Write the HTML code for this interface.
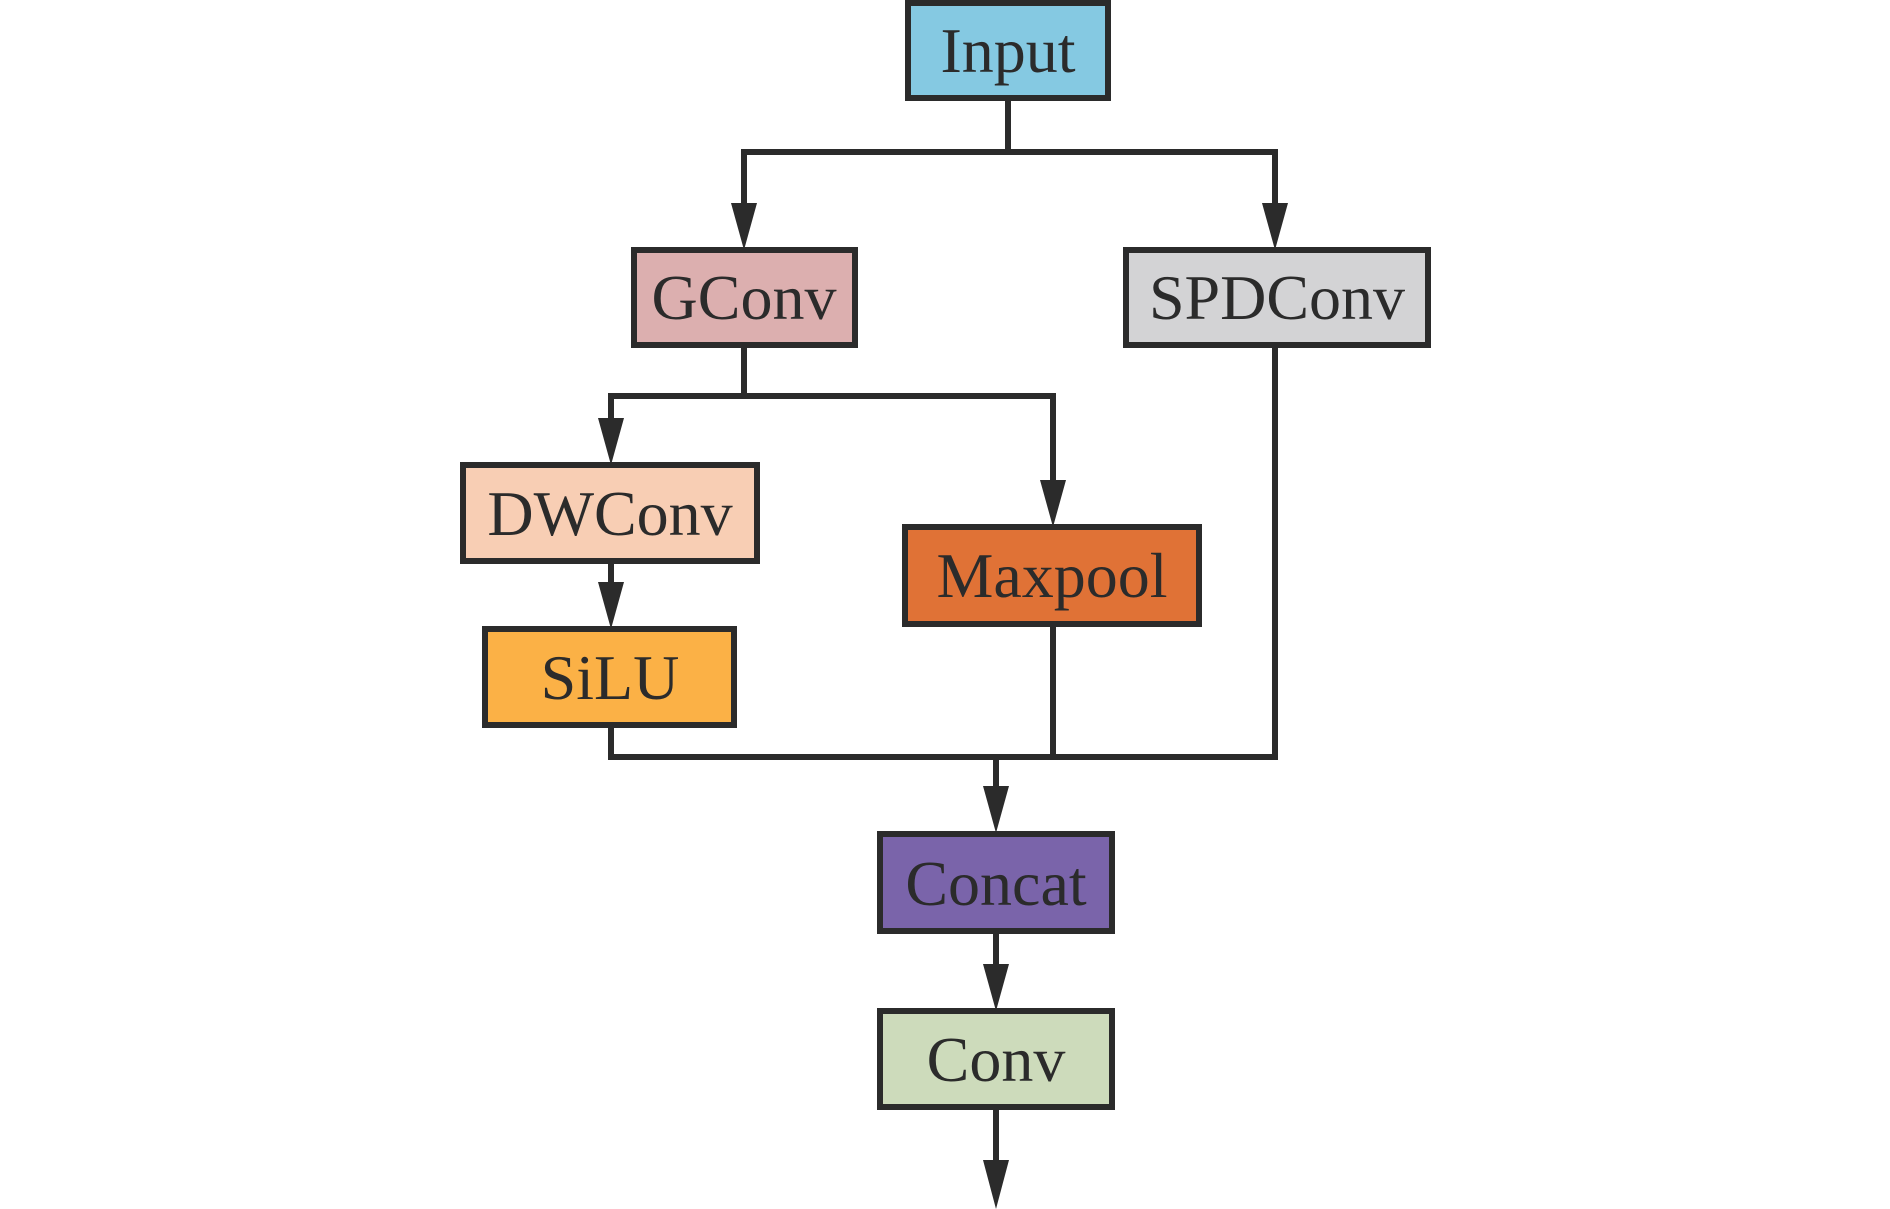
<!DOCTYPE html>
<html><head><meta charset="utf-8"><style>html,body{margin:0;padding:0;background:#fff}svg{display:block}</style></head>
<body>
<svg width="1890" height="1209" viewBox="0 0 1890 1209" xmlns="http://www.w3.org/2000/svg">
<g stroke="#2b2b2b" stroke-width="6" fill="none">
<path d="M1008 98V152M741 152H1278M744 152V205M1275 152V205"/>
<path d="M744 345V396M608 396H1056M611 396V420M1053 396V482"/>
<path d="M611 561V585"/>
<path d="M611 725V757H1275V345M1053 624V757M996 757V788"/>
<path d="M996 931V966M996 1107V1160"/>
</g>
<g fill="#2b2b2b">
<polygon points="731,203 757,203 744,250"/>
<polygon points="1262,203 1288,203 1275,250"/>
<polygon points="598,418 624,418 611,465"/>
<polygon points="1040,480 1066,480 1053,527"/>
<polygon points="598,582 624,582 611,629"/>
<polygon points="983,786 1009,786 996,833"/>
<polygon points="983,964 1009,964 996,1011"/>
<polygon points="983,1160 1009,1160 996,1209"/>
</g>
<g stroke="#2b2b2b" stroke-width="6">
<rect x="908" y="3" width="200" height="95" fill="#85c9e2"/>
<rect x="634" y="250" width="221" height="95" fill="#dcafaf"/>
<rect x="1126" y="250" width="302" height="95" fill="#d3d3d5"/>
<rect x="463" y="465" width="294" height="96" fill="#f8ceb4"/>
<rect x="905" y="527" width="294" height="97" fill="#e07236"/>
<rect x="485" y="629" width="249" height="96" fill="#fbb146"/>
<rect x="880" y="834" width="232" height="97" fill="#7a64aa"/>
<rect x="880" y="1011" width="232" height="96" fill="#cddbbb"/>
</g>
<g font-family="Liberation Serif, serif" font-size="64" fill="#2b2b2b" text-anchor="middle">
<text x="1008" y="72">Input</text>
<text x="744" y="319">GConv</text>
<text x="1277" y="319">SPDConv</text>
<text x="610" y="535">DWConv</text>
<text x="1052" y="597">Maxpool</text>
<text x="610" y="699">SiLU</text>
<text x="996" y="905">Concat</text>
<text x="996" y="1081">Conv</text>
</g>
</svg>
</body></html>
